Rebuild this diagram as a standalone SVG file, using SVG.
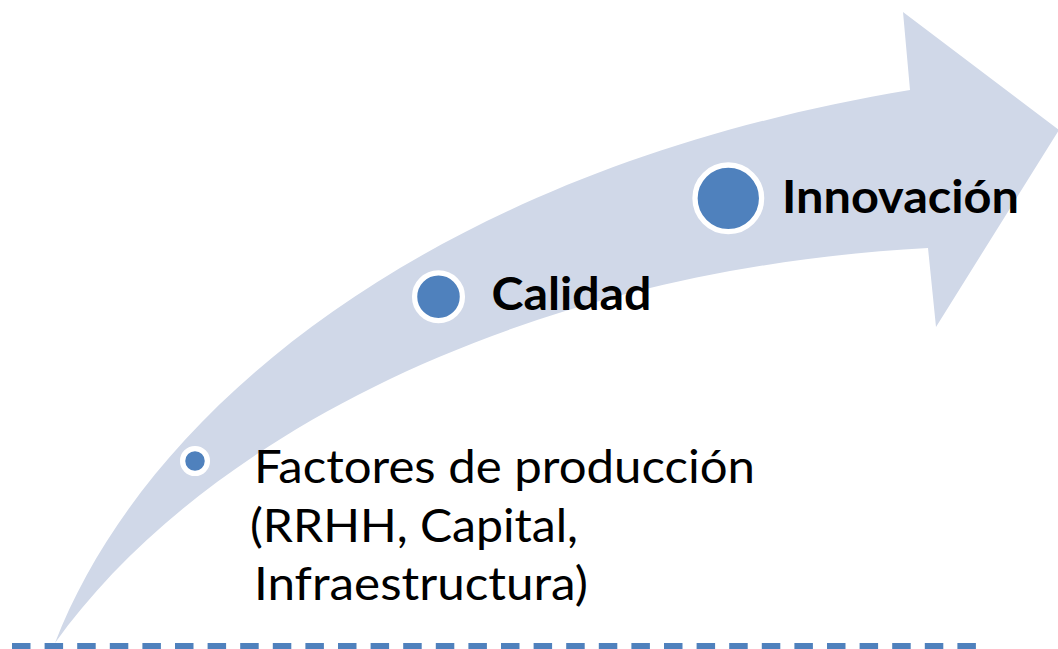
<svg xmlns="http://www.w3.org/2000/svg" width="1058" height="649" viewBox="0 0 1058 649">
  <style>
    .band { fill: #D0D8E8; stroke: none; }
    .dot { fill: #4F81BD; stroke: #FFFFFF; stroke-width: 5.3; }
    .lbl { font-family: Lato, "Open Sans", "Liberation Sans", sans-serif; font-size: 46px; fill: #000000; }
    .bold { font-weight: bold; }
    .base { stroke: #4F81BD; stroke-width: 6; stroke-dasharray: 18.5 14.1; fill: none; }
  </style>
  <rect width="1058" height="649" fill="#FFFFFF"/>
  <g id="arrow">
    <path class="band" d="M55,643 C145,410 430,170 910,90 L903,12 L1059,130 L936,327 L928,248 C520,270 200,440 55,643 Z"/>
  </g>
  <g id="connectors">
    <line class="base" x1="12" y1="646" x2="976" y2="646"/>
  </g>
  <g id="node-factores">
    <circle class="dot" cx="195" cy="461" r="12.4"/>
    <text class="lbl" x="254" y="483" textLength="501" lengthAdjust="spacingAndGlyphs">Factores de producción</text>
    <text class="lbl" x="250" y="541.5" textLength="328" lengthAdjust="spacingAndGlyphs">(RRHH, Capital,</text>
    <text class="lbl" x="254" y="600" textLength="334" lengthAdjust="spacingAndGlyphs">Infraestructura)</text>
  </g>
  <g id="node-calidad">
    <circle class="dot" cx="438.5" cy="296.7" r="23.9"/>
    <text class="lbl bold" x="491.5" y="310" textLength="160" lengthAdjust="spacingAndGlyphs">Calidad</text>
  </g>
  <g id="node-innovacion">
    <circle class="dot" cx="728.3" cy="198.3" r="33.3"/>
    <text class="lbl bold" x="782" y="213.3" textLength="237" lengthAdjust="spacingAndGlyphs">Innovación</text>
  </g>
</svg>
